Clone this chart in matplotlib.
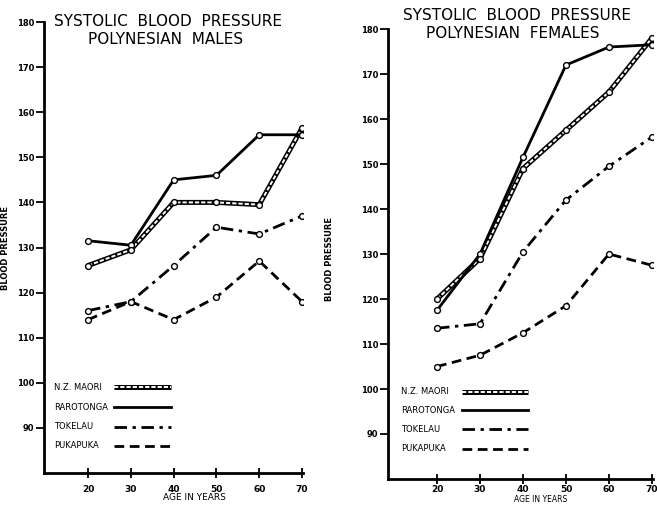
import matplotlib
matplotlib.use("Agg")
import matplotlib.pyplot as plt

ages = [20, 30, 40, 50, 60, 70]
age_labels = ["20", "30", "40", "50", "60", "70"]
bp_ticks = [90, 100, 110, 120, 130, 140, 150, 160, 170, 180]

groups = ["N.Z. MAORI", "RAROTONGA", "TOKELAU", "PUKAPUKA"]

# Males
male_maori = [126, 129.5, 140, 140, 139.5, 156.5]
male_rarotonga = [131.5, 130.5, 145, 146, 155, 155]
male_tokelau = [116, 118, 126, 134.5, 133, 137]
male_pukapuka = [114, 118, 114, 119, 127, 118]

# Females
female_maori = [120, 129, 149, 157.5, 166, 178]
female_rarotonga = [117.5, 130, 151.5, 172, 176, 176.5]
female_tokelau = [113.5, 114.5, 130.5, 142, 149.5, 156]
female_pukapuka = [105, 107.5, 112.5, 118.5, 130, 127.5]

FONT = "DejaVu Sans"
plt.rcParams["font.family"] = FONT

fig = plt.figure(figsize=(6.57, 5.05), dpi=100)


def draw_series(ax, x, y, style, transform=None, marker=True):
    kw = {}
    if transform is not None:
        kw["transform"] = transform
    mk = dict(marker="o", ms=4.2, mfc="white", mec="black", mew=1.0) if marker else {}
    if style == "maori":
        ax.plot(x, y, color="black", lw=3.6, solid_capstyle="butt", zorder=3, **kw)
        ax.plot(x, y, color="white", lw=1.4, ls=(0, (2.2, 1.0)), zorder=4, **kw)
        if marker:
            ax.plot(x, y, ls="none", zorder=6, **mk, **kw)
    elif style == "solid":
        ax.plot(x, y, color="black", lw=2.0, zorder=5, **mk, **kw)
    elif style == "dashdot":
        ax.plot(x, y, color="black", lw=2.0, ls=(0, (4.5, 2.0, 1.2, 2.0)), zorder=5, **mk, **kw)
    elif style == "dashed":
        ax.plot(x, y, color="black", lw=2.0, ls=(0, (3.5, 2.0)), zorder=5, **mk, **kw)


styles = ["maori", "solid", "dashdot", "dashed"]


def setup(ax, xlim, ylab_xy, xlab_xy, legend_spec, xpad, xlab_size):
    ax.set_xlim(*xlim)
    ax.set_ylim(80, 180)
    for s in ["top", "right"]:
        ax.spines[s].set_visible(False)
    for s in ["left", "bottom"]:
        ax.spines[s].set_linewidth(2.0)
    ax.set_xticks(ages)
    ax.set_xticklabels(age_labels, fontsize=6.5, fontweight="bold")
    ax.set_yticks(bp_ticks)
    ax.set_yticklabels([str(t) for t in bp_ticks], fontsize=6, fontweight="bold")
    ax.tick_params(axis="y", direction="out", length=6, width=1.3, pad=1)
    ax.tick_params(axis="x", direction="inout", length=7, width=1.3, pad=xpad)
    ax.set_ylabel("BLOOD PRESSURE", fontsize=6, fontweight="bold")
    ax.yaxis.set_label_coords(*ylab_xy)
    ax.set_xlabel("AGE IN YEARS", fontsize=xlab_size, fontweight="normal")
    ax.xaxis.set_label_coords(*xlab_xy)
    ax.patch.set_alpha(0)
    # legend (manual, axes-fraction coordinates)
    tx, lx0, lx1, ys = legend_spec
    for name, st, yy in zip(groups, styles, ys):
        ax.text(tx, yy, name, transform=ax.transAxes, fontsize=6, va="center", ha="left")
        draw_series(ax, [lx0, lx1], [yy, yy], st, transform=ax.transAxes, marker=False)


# Left: males
axL = fig.add_axes([0.067, 0.0634, 0.394, 0.893])
for vals, st in zip([male_maori, male_rarotonga, male_tokelau, male_pukapuka], styles):
    draw_series(axL, ages, vals, st)
setup(axL, (9.7, 70.2), (-0.13, 0.5), (0.58, -0.045),
      (0.04, 0.27, 0.49, [0.19, 0.146, 0.102, 0.06]), 5, 6.5)

# Right: females
axR = fig.add_axes([0.5906, 0.0515, 0.403, 0.891])
for vals, st in zip([female_maori, female_rarotonga, female_tokelau, female_pukapuka], styles):
    draw_series(axR, ages, vals, st)
setup(axR, (8.6, 70.2), (-0.205, 0.49), (0.575, -0.036),
      (0.05, 0.28, 0.53, [0.194, 0.153, 0.111, 0.067]), 1.0, 5.5)

fig.text(168 / 657, 1 - 21.5 / 505, "SYSTOLIC  BLOOD  PRESSURE", ha="center", va="center", fontsize=11)
fig.text(166 / 657, 1 - 39 / 505, "POLYNESIAN  MALES", ha="center", va="center", fontsize=11)
fig.text(517 / 657, 1 - 15.5 / 505, "SYSTOLIC  BLOOD  PRESSURE", ha="center", va="center", fontsize=11)
fig.text(513 / 657, 1 - 33 / 505, "POLYNESIAN  FEMALES", ha="center", va="center", fontsize=11)

fig.savefig("out.png", dpi=100, facecolor="white")
